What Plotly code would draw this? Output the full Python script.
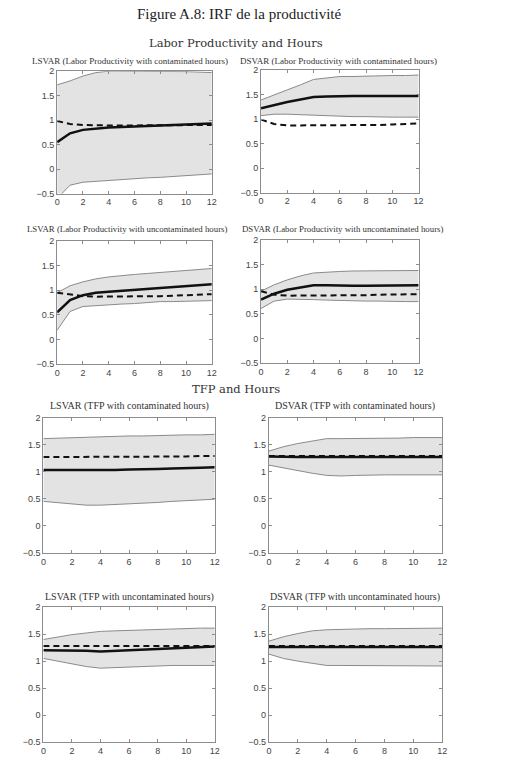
import plotly.graph_objects as go

W, H = 529, 767

steps = [0, 1, 2, 3, 4, 5, 6, 7, 8, 9, 10, 11, 12]
x_ticks = [0, 2, 4, 6, 8, 10, 12]
y_ticks = [-0.5, 0, 0.5, 1, 1.5, 2]
y_tick_labels = ["\u22120.5", "0", "0.5", "1", "1.5", "2"]

titles = [
    "LSVAR (Labor Productivity with contaminated hours)",
    "DSVAR (Labor Productivity with contaminated hours)",
    "LSVAR (Labor Productivity with uncontaminated hours)",
    "DSVAR (Labor Productivity with uncontaminated hours)",
    "LSVAR (TFP with contaminated hours)",
    "DSVAR (TFP with contaminated hours)",
    "LSVAR (TFP with uncontaminated hours)",
    "DSVAR (TFP with uncontaminated hours)",
]

p1_upper = [1.72, 1.80, 1.90, 1.97, 2.00, 2.00, 2.00, 2.00, 2.00, 1.99, 1.99, 1.98, 1.97]
p1_solid = [0.55, 0.73, 0.80, 0.83, 0.85, 0.86, 0.87, 0.88, 0.89, 0.90, 0.91, 0.92, 0.93]
p1_lower = [-0.60, -0.33, -0.27, -0.25, -0.24, -0.22, -0.20, -0.18, -0.17, -0.15, -0.13, -0.11, -0.10]
p1_dash = [0.98, 0.92, 0.90, 0.89, 0.89, 0.89, 0.89, 0.89, 0.89, 0.89, 0.89, 0.89, 0.90]

p2_upper = [1.39, 1.49, 1.59, 1.70, 1.81, 1.84, 1.87, 1.87, 1.88, 1.88, 1.89, 1.89, 1.90]
p2_solid = [1.22, 1.29, 1.35, 1.40, 1.45, 1.46, 1.47, 1.47, 1.47, 1.47, 1.47, 1.47, 1.47]
p2_lower = [1.07, 1.10, 1.10, 1.09, 1.07, 1.06, 1.05, 1.05, 1.05, 1.04, 1.04, 1.04, 1.04]
p2_dash = [0.99, 0.90, 0.87, 0.87, 0.87, 0.87, 0.87, 0.87, 0.88, 0.88, 0.89, 0.90, 0.91]

p3_upper = [0.95, 1.09, 1.17, 1.23, 1.27, 1.30, 1.32, 1.34, 1.36, 1.38, 1.40, 1.42, 1.44]
p3_solid = [0.55, 0.80, 0.90, 0.95, 0.97, 0.99, 1.01, 1.03, 1.05, 1.07, 1.09, 1.11, 1.12]
p3_lower = [0.19, 0.57, 0.67, 0.69, 0.71, 0.72, 0.73, 0.75, 0.77, 0.77, 0.78, 0.79, 0.79]
p3_dash = [0.95, 0.92, 0.88, 0.87, 0.87, 0.87, 0.87, 0.88, 0.88, 0.89, 0.90, 0.91, 0.92]

p4_upper = [0.96, 1.09, 1.19, 1.27, 1.33, 1.35, 1.36, 1.37, 1.37, 1.37, 1.38, 1.38, 1.38]
p4_solid = [0.79, 0.91, 0.99, 1.04, 1.08, 1.08, 1.07, 1.07, 1.07, 1.07, 1.08, 1.08, 1.08]
p4_lower = [0.61, 0.76, 0.80, 0.80, 0.79, 0.78, 0.77, 0.77, 0.76, 0.76, 0.75, 0.75, 0.75]
p4_dash = [0.96, 0.89, 0.87, 0.87, 0.87, 0.87, 0.87, 0.88, 0.88, 0.89, 0.89, 0.90, 0.90]

p5_upper = [1.61, 1.62, 1.63, 1.64, 1.64, 1.65, 1.66, 1.66, 1.67, 1.67, 1.68, 1.68, 1.69]
p5_solid = [1.03, 1.03, 1.02, 1.02, 1.02, 1.03, 1.04, 1.04, 1.05, 1.06, 1.06, 1.07, 1.08]
p5_lower = [0.45, 0.43, 0.41, 0.38, 0.38, 0.39, 0.41, 0.42, 0.43, 0.45, 0.46, 0.47, 0.49]
p5_dash = [1.27, 1.27, 1.27, 1.27, 1.27, 1.27, 1.28, 1.28, 1.28, 1.28, 1.28, 1.29, 1.29]

p6_upper = [1.38, 1.46, 1.52, 1.56, 1.61, 1.61, 1.61, 1.62, 1.62, 1.62, 1.63, 1.63, 1.63]
p6_solid = [1.28, 1.27, 1.27, 1.27, 1.27, 1.27, 1.27, 1.27, 1.27, 1.27, 1.27, 1.27, 1.27]
p6_lower = [1.12, 1.07, 1.01, 0.97, 0.93, 0.92, 0.93, 0.94, 0.94, 0.94, 0.94, 0.94, 0.94]
p6_dash = [1.29, 1.29, 1.29, 1.29, 1.29, 1.29, 1.29, 1.29, 1.29, 1.29, 1.29, 1.29, 1.29]

p7_upper = [1.40, 1.45, 1.49, 1.52, 1.55, 1.56, 1.57, 1.58, 1.59, 1.59, 1.60, 1.61, 1.61]
p7_solid = [1.20, 1.20, 1.19, 1.19, 1.18, 1.19, 1.21, 1.22, 1.23, 1.24, 1.25, 1.26, 1.27]
p7_lower = [1.05, 1.00, 0.95, 0.90, 0.87, 0.88, 0.90, 0.91, 0.92, 0.92, 0.92, 0.92, 0.92]
p7_dash = [1.28, 1.28, 1.28, 1.28, 1.28, 1.28, 1.28, 1.28, 1.28, 1.28, 1.28, 1.28, 1.28]

p8_upper = [1.37, 1.45, 1.51, 1.56, 1.58, 1.59, 1.60, 1.60, 1.60, 1.60, 1.61, 1.61, 1.61]
p8_solid = [1.26, 1.26, 1.26, 1.26, 1.26, 1.26, 1.26, 1.26, 1.26, 1.26, 1.26, 1.26, 1.26]
p8_lower = [1.13, 1.05, 1.00, 0.96, 0.92, 0.92, 0.92, 0.92, 0.92, 0.92, 0.91, 0.91, 0.91]
p8_dash = [1.28, 1.28, 1.28, 1.28, 1.28, 1.28, 1.28, 1.28, 1.28, 1.28, 1.28, 1.28, 1.28]

panels = [
    (p1_upper, p1_solid, p1_lower, p1_dash),
    (p2_upper, p2_solid, p2_lower, p2_dash),
    (p3_upper, p3_solid, p3_lower, p3_dash),
    (p4_upper, p4_solid, p4_lower, p4_dash),
    (p5_upper, p5_solid, p5_lower, p5_dash),
    (p6_upper, p6_solid, p6_lower, p6_dash),
    (p7_upper, p7_solid, p7_lower, p7_dash),
    (p8_upper, p8_solid, p8_lower, p8_dash),
]

# pixel boxes (left, right, top, bottom)
boxes = [
    (55, 212, 67, 191), (262, 422, 66, 190),
    (55, 212, 239, 364), (262, 422, 238, 363),
    (41, 215, 418, 555), (270, 446, 418, 555),
    (41, 215, 610, 747), (270, 446, 610, 747),
]
title_x = [129, 341, 126, 345, 128, 357, 128, 357]
title_y = [57, 57, 227, 227, 406, 406, 600, 600]
title_size = [9, 9, 8.8, 8.8, 10, 10, 10, 10]

fig = go.Figure()
layout = {}
annotations = []

band_fill = "#e3e3e3"
band_edge = "#8a8a8a"
frame = "#8c8c8c"
tick_font = dict(family="Liberation Sans, Arial, sans-serif", size=9, color="#444")

for i, (up, so, lo, da) in enumerate(panels):
    n = i + 1
    xa = "x" if n == 1 else f"x{n}"
    ya = "y" if n == 1 else f"y{n}"
    fig.add_trace(go.Scatter(x=steps, y=lo, xaxis=xa, yaxis=ya, mode="lines",
                             line=dict(color=band_edge, width=1), showlegend=False))
    fig.add_trace(go.Scatter(x=steps, y=up, xaxis=xa, yaxis=ya, mode="lines",
                             line=dict(color=band_edge, width=1), fill="tonexty",
                             fillcolor=band_fill, showlegend=False))
    fig.add_trace(go.Scatter(x=steps, y=da, xaxis=xa, yaxis=ya, mode="lines",
                             line=dict(color="#111", width=2, dash="6px,4px"), showlegend=False))
    fig.add_trace(go.Scatter(x=steps, y=so, xaxis=xa, yaxis=ya, mode="lines",
                             line=dict(color="#111", width=2.5), showlegend=False))
    l, r, t, b = boxes[i]
    xkey = "xaxis" if n == 1 else f"xaxis{n}"
    ykey = "yaxis" if n == 1 else f"yaxis{n}"
    layout[xkey] = dict(domain=[l / W, r / W], range=[0, 12], anchor=ya,
                        tickvals=x_ticks, ticks="inside", ticklen=3, tickcolor=frame,
                        showline=True, linecolor=frame, linewidth=1, mirror="allticks",
                        showgrid=False, zeroline=False, tickfont=tick_font)
    layout[ykey] = dict(domain=[1 - b / H, 1 - t / H], range=[-0.5, 2], anchor=xa,
                        tickvals=y_ticks, ticktext=y_tick_labels, ticks="inside", ticklen=3,
                        tickcolor=frame, showline=True, linecolor=frame, linewidth=1,
                        mirror="allticks", showgrid=False, zeroline=False, tickfont=tick_font)
    annotations.append(dict(text=titles[i], x=title_x[i] / W, y=1 - title_y[i] / H,
                            xref="paper", yref="paper", xanchor="center", yanchor="middle",
                            showarrow=False,
                            font=dict(family="Liberation Serif, Times New Roman, serif",
                                      size=title_size[i], color="#333")))

annotations.append(dict(text="Figure A.8: IRF de la productivité", x=240 / W, y=1 - 9 / H,
                        xref="paper", yref="paper", xanchor="center", yanchor="middle",
                        showarrow=False,
                        font=dict(family="Liberation Serif, serif", size=15, color="#222")))
annotations.append(dict(text="Labor Productivity and Hours", x=237 / W, y=1 - 38 / H,
                        xref="paper", yref="paper", xanchor="center", yanchor="middle",
                        showarrow=False,
                        font=dict(family="DejaVu Serif, serif", size=11.5, color="#333")))
annotations.append(dict(text="TFP and Hours", x=237 / W, y=1 - 389 / H,
                        xref="paper", yref="paper", xanchor="center", yanchor="middle",
                        showarrow=False,
                        font=dict(family="DejaVu Serif, serif", size=11.5, color="#333")))

fig.update_layout(width=W, height=H, margin=dict(l=0, r=0, t=0, b=0),
                  paper_bgcolor="white", plot_bgcolor="white",
                  annotations=annotations, **layout)

fig.write_html("out.html")
